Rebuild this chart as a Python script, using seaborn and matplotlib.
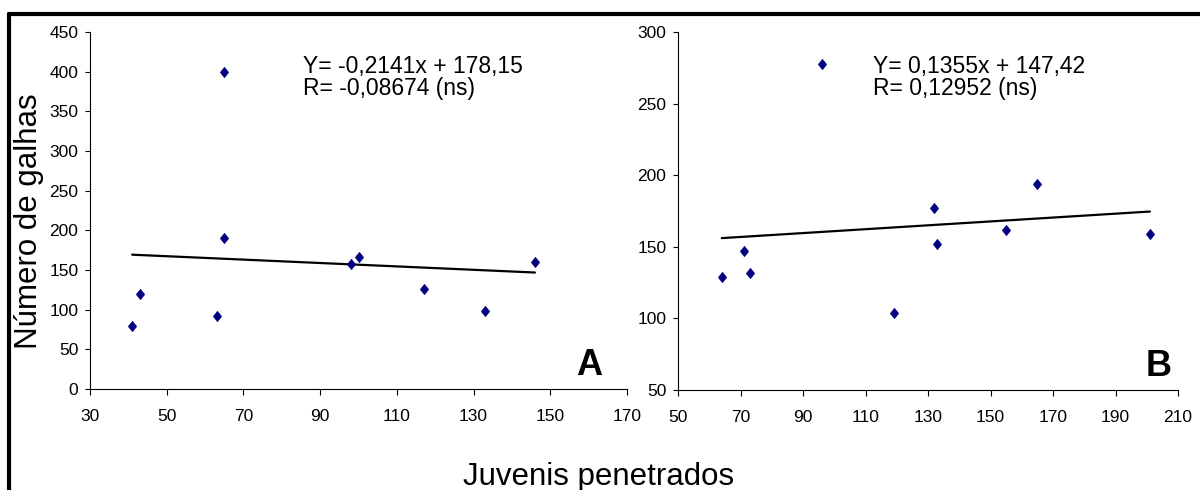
import numpy as np
import pandas as pd
import seaborn as sns
import matplotlib.pyplot as plt
from matplotlib.lines import Line2D

# Data
juvenis_a = [41, 43, 63, 65, 65, 98, 100, 117, 133, 146]
galhas_a = [80, 120, 92, 190, 400, 158, 166, 126, 98, 160]
juvenis_b = [64, 71, 73, 96, 119, 132, 133, 155, 165, 201]
galhas_b = [129, 147, 132, 278, 104, 177, 152, 162, 194, 159]

# regression coefficients as printed on the chart
slope_a, intercept_a = -0.2141, 178.15
slope_b, intercept_b = 0.1355, 147.42
eq_a = ["Y= -0,2141x + 178,15", "R= -0,08674 (ns)"]
eq_b = ["Y= 0,1355x + 147,42", "R= 0,12952 (ns)"]

xlim_a, ylim_a = (30, 170), (0, 450)
xlim_b, ylim_b = (50, 210), (50, 300)

sns.set_style("ticks")
plt.rcParams['font.family'] = ['Liberation Sans', 'DejaVu Sans']
plt.rcParams['text.color'] = 'black'

diamond = [(0, 1), (0.8, 0), (0, -1), (-0.8, 0), (0, 1)]

fig = plt.figure(figsize=(12, 4.9), dpi=100)
ax_a = fig.add_axes([0.075, 0.206, 0.4475, 0.7286])
ax_b = fig.add_axes([0.565, 0.204, 0.4167, 0.7306])


def draw_panel(ax, xs, ys, slope, intercept, xlim, ylim, xstep, ystep):
    df = pd.DataFrame({'x': xs, 'y': ys})
    sns.scatterplot(data=df, x='x', y='y', ax=ax, marker=diamond, s=60,
                    color='#000080', edgecolor='#000080', linewidth=0.3, zorder=3)
    line_x = np.array([min(xs), max(xs)])
    sns.lineplot(x=line_x, y=slope * line_x + intercept, ax=ax,
                 color='black', linewidth=1.6, zorder=2)
    ax.set_xlim(*xlim)
    ax.set_ylim(*ylim)
    ax.set_xticks(np.arange(xlim[0], xlim[1] + 1, xstep))
    ax.set_yticks(np.arange(ylim[0], ylim[1] + 1, ystep))
    ax.set_xlabel('')
    ax.set_ylabel('')
    for side in ['top', 'right']:
        ax.spines[side].set_visible(False)
    for side in ['left', 'bottom']:
        ax.spines[side].set_linewidth(0.8)
        ax.spines[side].set_color('black')
    ax.tick_params(axis='x', length=4.5, width=0.8, pad=10, labelsize=12.5,
                   colors='black', labelcolor='black')
    ax.tick_params(axis='y', length=3.8, width=0.8, pad=4.5, labelsize=12.5,
                   colors='black', labelcolor='black')


draw_panel(ax_a, juvenis_a, galhas_a, slope_a, intercept_a, xlim_a, ylim_a, 20, 50)
draw_panel(ax_b, juvenis_b, galhas_b, slope_b, intercept_b, xlim_b, ylim_b, 20, 50)

# equations
for x0, lines in [(0.2525, eq_a), (0.7275, eq_b)]:
    fig.text(x0, 0.851, lines[0], fontsize=16.5, va='baseline', color='black')
    fig.text(x0, 0.806, lines[1], fontsize=16.5, va='baseline', color='black')

# panel letters
fig.text(0.5017, 0.2347, 'A', fontsize=26, fontweight='bold', ha='right',
         va='baseline', color='black')
fig.text(0.9767, 0.2327, 'B', fontsize=26, fontweight='bold', ha='right',
         va='baseline', color='black')

# shared axis labels
fig.text(0.024, 0.548, 'Número de galhas', fontsize=22.5, rotation=90,
         ha='center', va='center', color='black')
fig.text(0.499, 0.0102, 'Juvenis penetrados', fontsize=22.5, ha='center',
         va='baseline', color='black')

# outer frame (top and left edges)
fig.add_artist(Line2D([0.0075, 1.0], [0.9714, 0.9714], color='black', linewidth=3,
                      transform=fig.transFigure))
fig.add_artist(Line2D([0.0075, 0.0075], [0.0, 0.9714], color='black', linewidth=3,
                      transform=fig.transFigure))

fig.savefig('out.png', dpi=100)
